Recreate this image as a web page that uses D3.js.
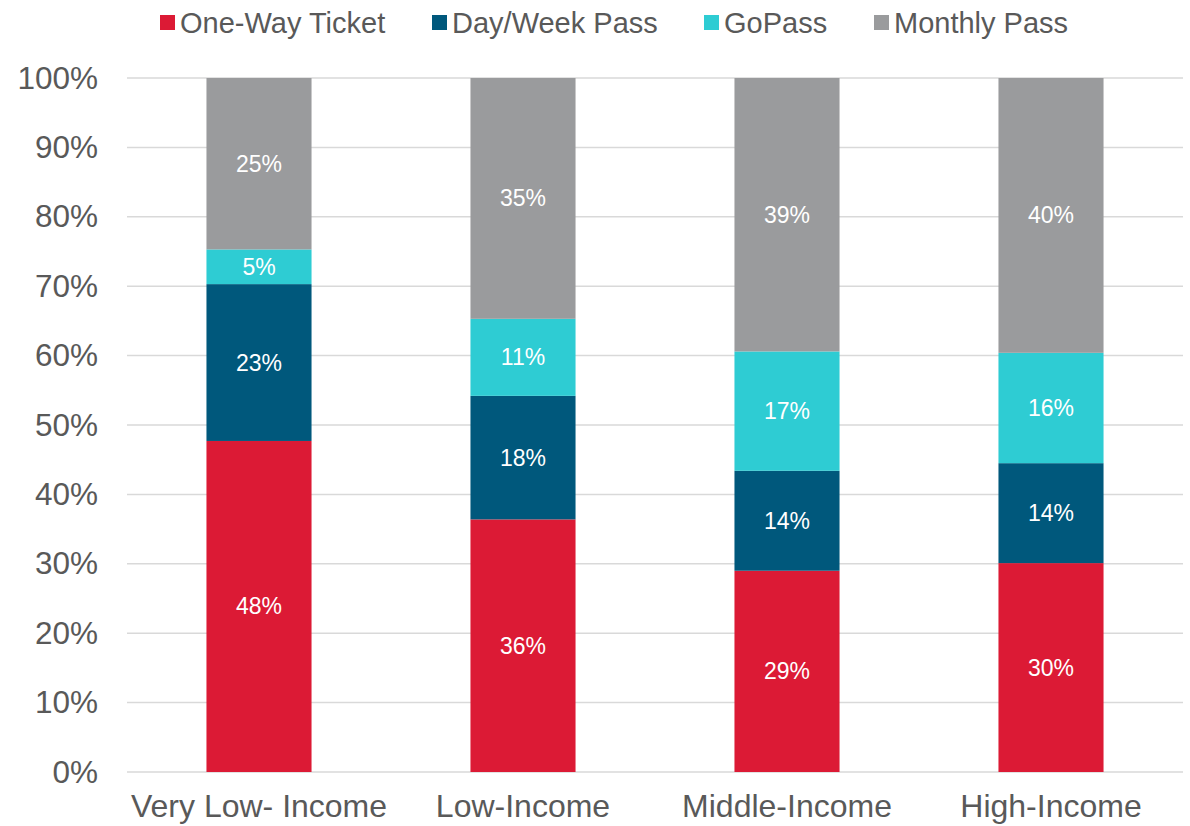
<!DOCTYPE html>
<html>
<head>
<meta charset="utf-8">
<script src="https://cdn.jsdelivr.net/npm/d3@7"></script>
<style>
  html, body { margin: 0; padding: 0; background: #fff; }
  svg { display: block; font-family: "Liberation Sans", Arial, sans-serif; }
</style>
</head>
<body>
<svg id="chart" width="1190" height="826"></svg>
<script>
// Fare product share by income group (percent of riders)
const categories = ["Very Low- Income", "Low-Income", "Middle-Income", "High-Income"];
const seriesNames = ["One-Way Ticket", "Day/Week Pass", "GoPass", "Monthly Pass"];
const oneWay   = [47.7, 36.4, 29.0, 30.1];
const dayWeek  = [22.6, 17.8, 14.4, 14.4];
const goPass   = [5.0, 11.1, 17.2, 15.9];
const monthly  = [24.7, 34.7, 39.4, 39.6];
const yTicks   = [0, 10, 20, 30, 40, 50, 60, 70, 80, 90, 100];
const colors   = ["#DC1A35", "#00587C", "#2ECCD3", "#9A9B9D"];

const seriesValues = [oneWay, dayWeek, goPass, monthly];
const rows = categories.map((c, i) => {
  const r = { category: c };
  seriesNames.forEach((s, j) => r[s] = seriesValues[j][i]);
  return r;
});

const svg = d3.select("#chart");
const margin = { top: 78, right: 7, bottom: 54, left: 127 };
const W = 1190, H = 826;

const x = d3.scaleBand()
  .domain(categories)
  .range([margin.left, W - margin.right])
  .paddingInner(0.602)
  .paddingOuter(0.301);

const y = d3.scaleLinear().domain([0, 100]).range([H - margin.bottom, margin.top]);

// gridlines
svg.append("g")
  .selectAll("line")
  .data(yTicks)
  .join("line")
  .attr("x1", margin.left)
  .attr("x2", W - margin.right)
  .attr("y1", d => y(d))
  .attr("y2", d => y(d))
  .attr("stroke", "#D9D9D9")
  .attr("stroke-width", 1.5);

// y axis labels
const yAxis = svg.append("g")
  .attr("transform", `translate(${margin.left},0)`)
  .call(d3.axisLeft(y).tickValues(yTicks).tickFormat(d => d + "%").tickSize(0).tickPadding(29));
yAxis.select(".domain").remove();
yAxis.selectAll("text")
  .attr("fill", "#595959")
  .style("font-size", "31.5px")
  .style("font-family", "'Liberation Sans', Arial, sans-serif");

// x axis labels
const xAxis = svg.append("g")
  .attr("transform", `translate(0,${H - margin.bottom})`)
  .call(d3.axisBottom(x).tickSize(0).tickPadding(22));
xAxis.select(".domain").remove();
xAxis.selectAll("text")
  .attr("fill", "#595959")
  .style("font-size", "32px")
  .style("font-family", "'Liberation Sans', Arial, sans-serif");

// stacked bars
const stacked = d3.stack().keys(seriesNames)(rows);

const layers = svg.append("g")
  .selectAll("g")
  .data(stacked)
  .join("g")
  .attr("fill", (d, i) => colors[i]);

layers.selectAll("rect")
  .data(d => d)
  .join("rect")
  .attr("x", d => x(d.data.category))
  .attr("width", x.bandwidth())
  .attr("y", d => y(d[1]))
  .attr("height", d => y(d[0]) - y(d[1]));

// segment value labels
layers.selectAll("text")
  .data(d => d)
  .join("text")
  .attr("x", d => x(d.data.category) + x.bandwidth() / 2)
  .attr("y", d => (y(d[0]) + y(d[1])) / 2)
  .attr("text-anchor", "middle")
  .attr("dominant-baseline", "central")
  .attr("fill", "#FFFFFF")
  .style("font-size", "23px")
  .text(d => d3.format(".0f")(d[1] - d[0]) + "%");

// legend
const legendItems = [
  { name: seriesNames[0], x: 160 },
  { name: seriesNames[1], x: 432 },
  { name: seriesNames[2], x: 704 },
  { name: seriesNames[3], x: 874 }
];
const legend = svg.append("g");
const li = legend.selectAll("g")
  .data(legendItems)
  .join("g")
  .attr("transform", d => `translate(${d.x},0)`);
li.append("rect")
  .attr("x", 0)
  .attr("y", 15)
  .attr("width", 15)
  .attr("height", 15)
  .attr("fill", (d, i) => colors[i]);
li.append("text")
  .attr("x", 20)
  .attr("y", 22.5)
  .attr("dominant-baseline", "central")
  .attr("fill", "#595959")
  .style("font-size", "29px")
  .text(d => d.name);
</script>
</body>
</html>
